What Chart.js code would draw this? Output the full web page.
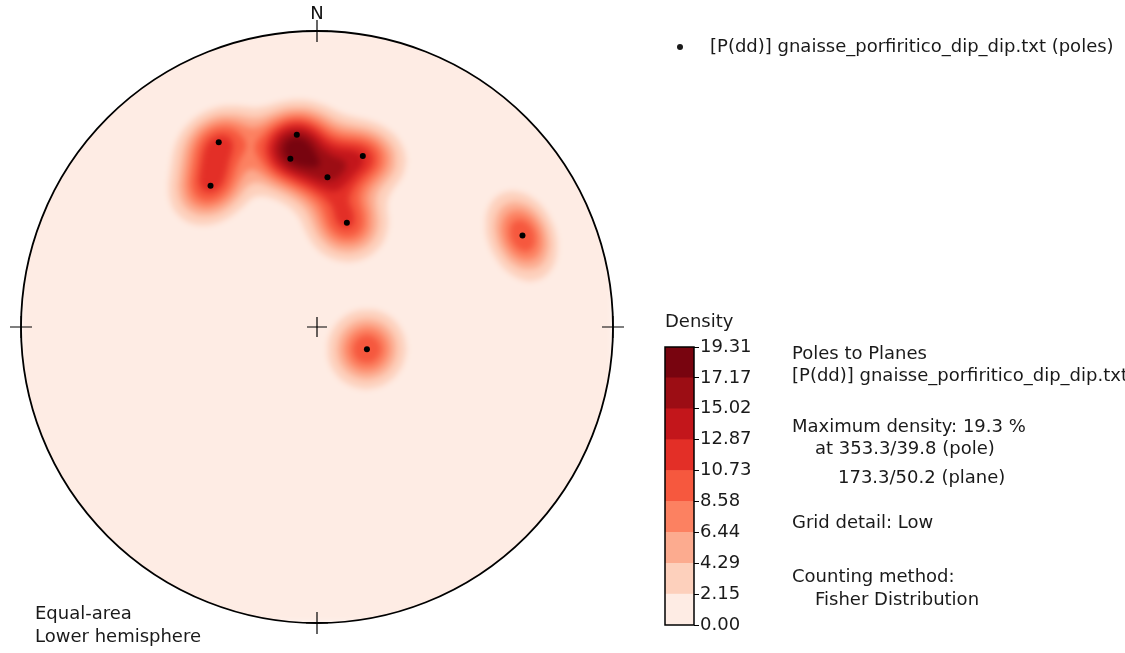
<!DOCTYPE html>
<html>
<head>
<meta charset="utf-8">
<script src="https://cdn.jsdelivr.net/npm/chart.js@4/dist/chart.umd.min.js"></script>
<style>
html,body{margin:0;padding:0;background:#fff;overflow:hidden;}
#wrap{position:relative;width:1125px;height:653px;overflow:hidden;}
#main{position:absolute;left:0;top:0;}
#cbar{position:absolute;left:620px;top:300px;}
</style>
</head>
<body>
<div id="wrap">
<canvas id="main" width="1125" height="653"></canvas>
<canvas id="cbar" width="160" height="345"></canvas>
</div>
<script>
// ---- data: poles to planes, as dip direction / dip (degrees) ----
const dipDirections = [152, 143, 174, 171, 195, 184, 196, 246, 294];
const dips          = [ 60,  50,  55,  48,  50,  42,  30,  65,  15];
const seriesLabel = "[P(dd)] gnaisse_porfiritico_dip_dip.txt (poles)";
// ---- colour bar levels & labels ----
const densityLevels = [0, 2.1456, 4.2911, 6.4367, 8.5822, 10.7278, 12.8733, 15.0189, 17.1644, 19.31];
const levelLabels   = ["0.00","2.15","4.29","6.44","8.58","10.73","12.87","15.02","17.17","19.31"];
const bandColors = ["#feece4","#fdd0bc","#fcab8f","#fc8161","#f6583e","#e32f27","#c3161b","#9c0d14","#78040f"];
const maxDensity = 19.31;
const fisherKappa = 90;
const infoLines = [
  ["Poles to Planes", 0, 354],
  ["[P(dd)] gnaisse_porfiritico_dip_dip.txt", 0, 376],
  ["Maximum density: 19.3 %", 0, 427],
  ["at 353.3/39.8 (pole)", 23, 449],
  ["173.3/50.2 (plane)", 46, 478],
  ["Grid detail: Low", 0, 523],
  ["Counting method:", 0, 577],
  ["Fisher Distribution", 23, 600]
];
const FONT = '18px "DejaVu Sans", sans-serif';
const D2R = Math.PI/180;

// pole of plane -> equal-area lower-hemisphere coordinates (unit circle)
function poleXY(dd, dip){
  const trend = (dd + 180) % 360;
  const theta = dip * D2R;             // angle from vertical
  const r = Math.SQRT2 * Math.sin(theta/2);
  return {x: r*Math.sin(trend*D2R), y: r*Math.cos(trend*D2R)};
}
function poleVec(dd, dip){
  const trend = (dd + 180) * D2R, theta = dip*D2R;
  return [Math.sin(theta)*Math.sin(trend), Math.sin(theta)*Math.cos(trend), -Math.cos(theta)];
}
const polePoints = dipDirections.map((d,i)=>poleXY(d, dips[i]));
const poleVecs = dipDirections.map((d,i)=>poleVec(d, dips[i]));
function hexRGB(h){return [parseInt(h.substr(1,2),16),parseInt(h.substr(3,2),16),parseInt(h.substr(5,2),16)];}

const stereoPlugin = {
  id: 'stereo',
  beforeDatasetsDraw(chart){
    const {ctx, chartArea:a, scales:{x, y}} = chart;
    const cx = x.getPixelForValue(0), cy = y.getPixelForValue(0);
    const R = x.getPixelForValue(1) - cx;
    const W = Math.ceil(a.right - a.left), H = Math.ceil(a.bottom - a.top);
    const vals = new Float32Array(W*H);
    let vmax = 0;
    for (let j=0;j<H;j++){
      const yv = y.getValueForPixel(a.top + j + 0.5);
      for (let i=0;i<W;i++){
        const xv = x.getValueForPixel(a.left + i + 0.5);
        const r = Math.hypot(xv, yv);
        let d = 0;
        if (r <= 1.02){
          const rr = Math.min(r, 1);
          const th = 2*Math.asin(rr/Math.SQRT2);
          const tr = Math.atan2(xv, yv);
          const v = [Math.sin(th)*Math.sin(tr), Math.sin(th)*Math.cos(tr), -Math.cos(th)];
          for (const p of poleVecs){
            const c = Math.abs(v[0]*p[0]+v[1]*p[1]+v[2]*p[2]);
            d += Math.exp(fisherKappa*(c-1));
          }
        }
        vals[j*W+i] = d;
        if (d > vmax) vmax = d;
      }
    }
    const off = document.createElement('canvas');
    off.width = W; off.height = H;
    const octx = off.getContext('2d');
    const img = octx.createImageData(W, H);
    const rgbBands = bandColors.map(hexRGB);
    for (let k=0;k<W*H;k++){
      const v = vals[k]/vmax*maxDensity;
      let b = Math.floor(v/(maxDensity/9)); if (b>8) b=8;
      const c = rgbBands[b];
      img.data[k*4]=c[0]; img.data[k*4+1]=c[1]; img.data[k*4+2]=c[2]; img.data[k*4+3]=255;
    }
    octx.putImageData(img,0,0);
    ctx.save();
    ctx.beginPath(); ctx.arc(cx, cy, R, 0, Math.PI*2); ctx.clip();
    ctx.filter = 'blur(3px)';
    ctx.drawImage(off, a.left, a.top);
    ctx.filter = 'none';
    ctx.restore();
    ctx.save();
    ctx.strokeStyle = '#000'; ctx.lineWidth = 1.8;
    ctx.beginPath(); ctx.arc(cx, cy, R, 0, Math.PI*2); ctx.stroke();
    ctx.lineWidth = 1.2;
    const cross = (px,py,s)=>{ctx.beginPath();ctx.moveTo(px-s,py);ctx.lineTo(px+s,py);ctx.moveTo(px,py-s);ctx.lineTo(px,py+s);ctx.stroke();};
    cross(cx, cy, 10);
    cross(cx - R, cy, 11); cross(cx + R, cy, 11);
    cross(cx, cy - R, 11); cross(cx, cy + R, 11);
    ctx.fillStyle = '#111'; ctx.font = FONT; ctx.textAlign='center'; ctx.textBaseline='middle';
    ctx.fillText('N', cx, cy - R - 17);
    ctx.restore();
  },
  afterDraw(chart){
    const {ctx} = chart;
    ctx.save();
    ctx.fillStyle = '#1a1a1a'; ctx.font = FONT; ctx.textBaseline = 'middle'; ctx.textAlign='left';
    ctx.beginPath(); ctx.arc(680, 47, 3, 0, Math.PI*2); ctx.fill();
    ctx.fillText(chart.data.datasets[0].label, 710, 47);
    ctx.fillText('Density', 665, 322);
    for (const [t, dx, yy] of infoLines) ctx.fillText(t, 792 + dx, yy);
    ctx.fillText('Equal-area', 35, 614);
    ctx.fillText('Lower hemisphere', 35, 637);
    ctx.restore();
  }
};

new Chart(document.getElementById('main'), {
  type: 'scatter',
  data: { datasets: [{
    label: seriesLabel,
    data: polePoints,
    pointRadius: 3, pointHoverRadius: 3,
    backgroundColor: '#000', borderColor: '#000', borderWidth: 0
  }]},
  options: {
    responsive: false, animation: false,
    layout: { padding: { left: 21, right: 512, top: 31, bottom: 30 } },
    scales: {
      x: { type:'linear', min:-1, max:1, display:false },
      y: { type:'linear', min:-1, max:1, display:false }
    },
    plugins: { legend:{display:false}, tooltip:{enabled:false} }
  },
  plugins: [stereoPlugin]
});

// ---- colour bar ----
const bandDatasets = bandColors.map((c,i)=>({
  data: [densityLevels[i+1]-densityLevels[i]],
  backgroundColor: c, borderWidth: 0,
  barPercentage: 1, categoryPercentage: 1
}));
const cbarBorder = {
  id:'cbarBorder',
  afterDatasetsDraw(chart){
    const {ctx, chartArea:a} = chart;
    ctx.save(); ctx.strokeStyle='#000'; ctx.lineWidth=1.5;
    ctx.strokeRect(a.left, a.top, a.right-a.left, a.bottom-a.top);
    ctx.restore();
  }
};
new Chart(document.getElementById('cbar'), {
  type: 'bar',
  data: { labels: ['density'], datasets: bandDatasets },
  options: {
    responsive: false, animation: false,
    layout: { padding: { left: 45, right: 0, top: 47, bottom: 20 } },
    scales: {
      x: { stacked: true, display: false },
      y: {
        stacked: true, position: 'right', min: 0, max: maxDensity,
        afterBuildTicks(s){ s.ticks = densityLevels.map(v=>({value:v})); },
        afterFit(s){ s.width = 86; },
        border: { display: false },
        grid: { drawOnChartArea: false, drawTicks: true, tickLength: 5, color: '#000', lineWidth: 1 },
        ticks: {
          padding: 1, color: '#1a1a1a', font: { family: 'DejaVu Sans', size: 18 },
          callback(v, i){ return levelLabels[i]; }
        }
      }
    },
    plugins: { legend:{display:false}, tooltip:{enabled:false} }
  },
  plugins: [cbarBorder]
});
</script>
</body>
</html>
